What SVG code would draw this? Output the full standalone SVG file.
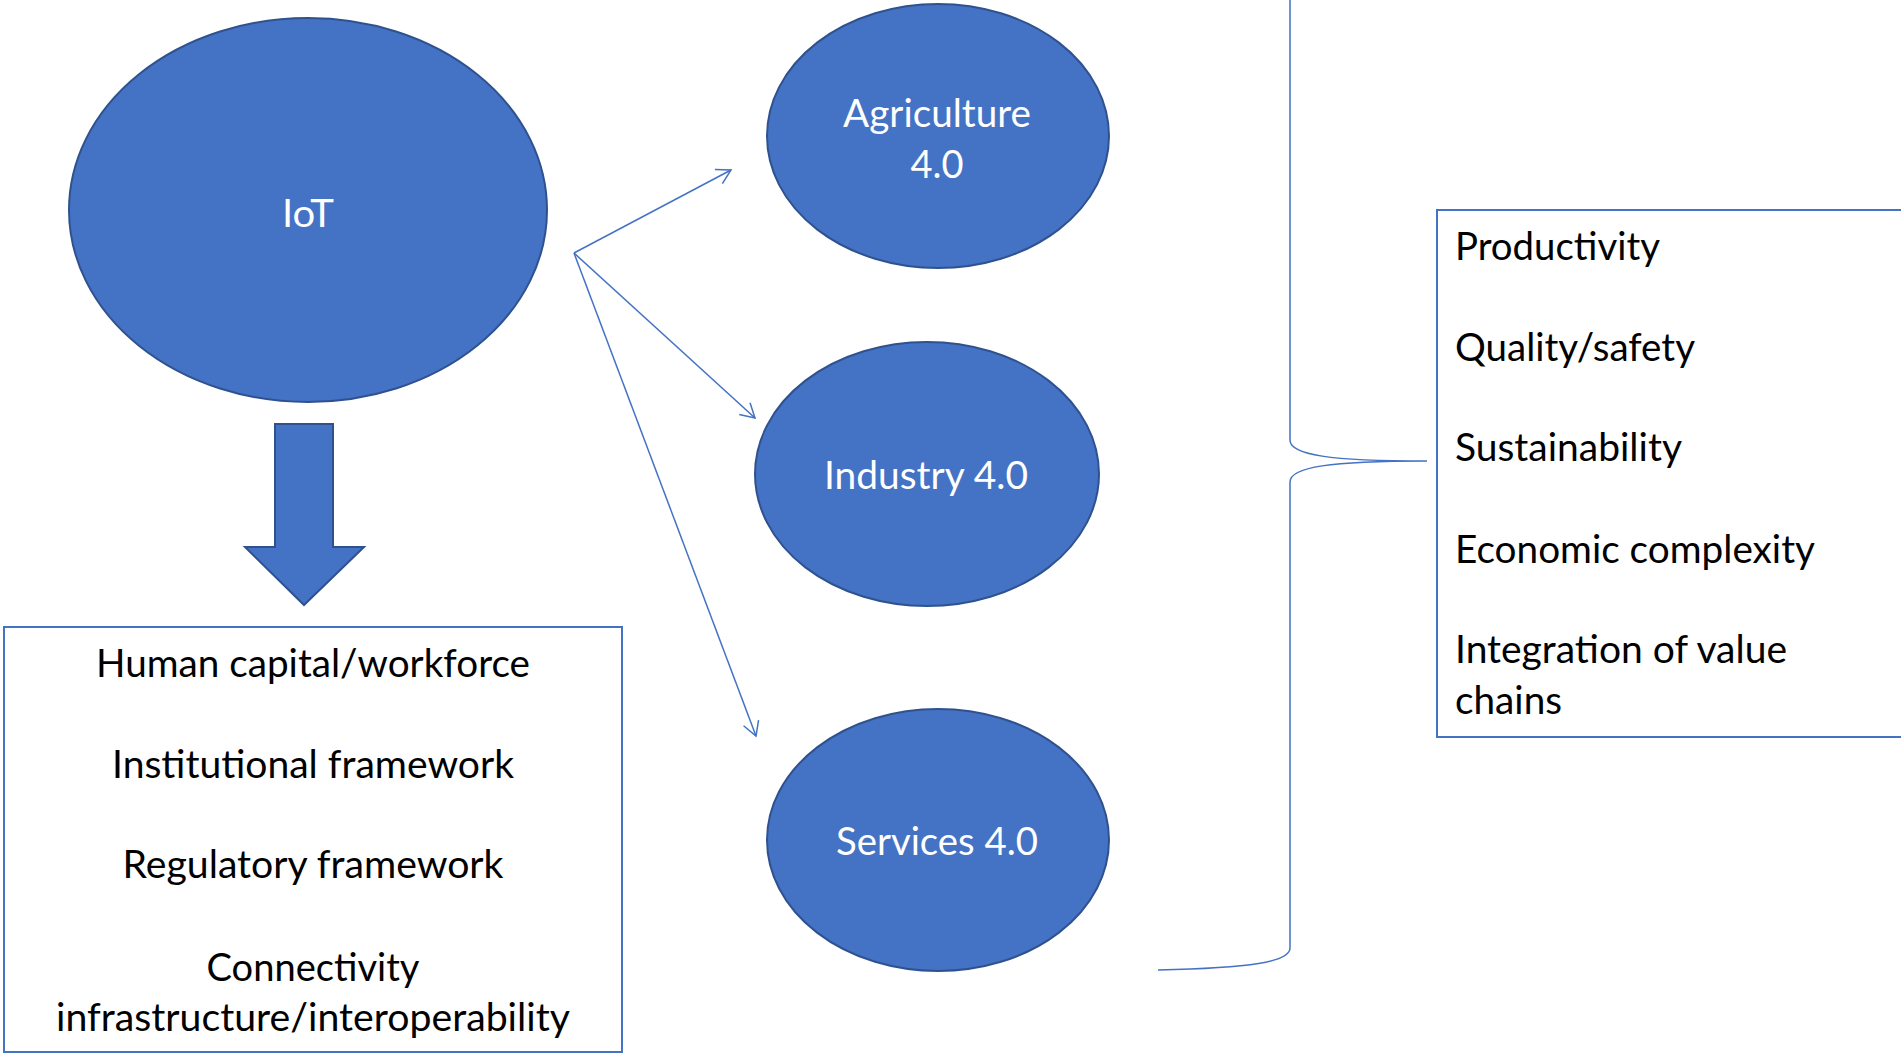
<svg xmlns="http://www.w3.org/2000/svg" width="1901" height="1053" viewBox="0 0 1901 1053">
<style>
.node{fill:#4472C4;stroke:#2F528F;stroke-width:2}
.wt{fill:#FFFFFF;font-family:Lato,"Liberation Sans",sans-serif;font-size:38px;text-anchor:middle}
.bt{fill:#000000;font-family:Lato,"Liberation Sans",sans-serif;font-size:38px}
.box{fill:none;stroke:#4472C4;stroke-width:2}
.conn{fill:none;stroke:#4472C4;stroke-width:1.5}
</style>
<defs>
<marker id="open" markerUnits="userSpaceOnUse" markerWidth="18" markerHeight="18" refX="14" refY="8" orient="auto" overflow="visible">
<path d="M0,0 L14,8 L0,16" fill="none" stroke="#4472C4" stroke-width="1.5"/>
</marker>
</defs>
<rect width="1901" height="1053" fill="#FFFFFF"/>
<g id="connectors">
<line class="conn" x1="574" y1="253" x2="731" y2="170" marker-end="url(#open)"/>
<line class="conn" x1="574" y1="253" x2="755" y2="418" marker-end="url(#open)"/>
<line class="conn" x1="574" y1="253" x2="756" y2="736" marker-end="url(#open)"/>
<polygon id="block-arrow" class="node" points="275,424 333,424 333,547 364,547 304,605 245,547 275,547"/>
<path id="brace" class="conn" d="M1290,0 V440 C1290,455 1330,461 1427,461 M1427,461 C1330,461 1290,467 1290,482 V948 C1290,962 1250,968 1158,970"/>
</g>
<g id="iot">
<ellipse class="node" cx="308" cy="210" rx="239" ry="192"/>
<text class="wt" x="308" y="227" textLength="52" lengthAdjust="spacingAndGlyphs">IoT</text>
</g>
<g id="agriculture">
<ellipse class="node" cx="938" cy="136" rx="171" ry="132"/>
<text class="wt" x="937" y="127" textLength="188" lengthAdjust="spacingAndGlyphs">Agriculture</text>
<text class="wt" x="937" y="178">4.0</text>
</g>
<g id="industry">
<ellipse class="node" cx="927" cy="474" rx="172" ry="132"/>
<text class="wt" x="926" y="489" textLength="204" lengthAdjust="spacingAndGlyphs">Industry 4.0</text>
</g>
<g id="services">
<ellipse class="node" cx="938" cy="840" rx="171" ry="131"/>
<text class="wt" x="937" y="855" textLength="202" lengthAdjust="spacingAndGlyphs">Services 4.0</text>
</g>
<g id="enablers">
<rect class="box" x="4" y="627" width="618" height="425"/>
<text class="bt" x="313" y="677" text-anchor="middle" textLength="434" lengthAdjust="spacingAndGlyphs">Human capital/workforce</text>
<text class="bt" x="313" y="778" text-anchor="middle" textLength="402" lengthAdjust="spacingAndGlyphs">Institutional framework</text>
<text class="bt" x="313" y="878" text-anchor="middle" textLength="381" lengthAdjust="spacingAndGlyphs">Regulatory framework</text>
<text class="bt" x="313" y="981" text-anchor="middle" textLength="213" lengthAdjust="spacingAndGlyphs">Connectivity</text>
<text class="bt" x="313" y="1031" text-anchor="middle" textLength="514" lengthAdjust="spacingAndGlyphs">infrastructure/interoperability</text>
</g>
<g id="outcomes">
<rect class="box" x="1437" y="210" width="500" height="527"/>
<text class="bt" x="1455" y="260" textLength="205" lengthAdjust="spacingAndGlyphs">Productivity</text>
<text class="bt" x="1455" y="361" textLength="240" lengthAdjust="spacingAndGlyphs">Quality/safety</text>
<text class="bt" x="1455" y="461" textLength="227" lengthAdjust="spacingAndGlyphs">Sustainability</text>
<text class="bt" x="1455" y="563" textLength="360" lengthAdjust="spacingAndGlyphs">Economic complexity</text>
<text class="bt" x="1455" y="663" textLength="332" lengthAdjust="spacingAndGlyphs">Integration of value</text>
<text class="bt" x="1455" y="714" textLength="107" lengthAdjust="spacingAndGlyphs">chains</text>
</g>
</svg>
